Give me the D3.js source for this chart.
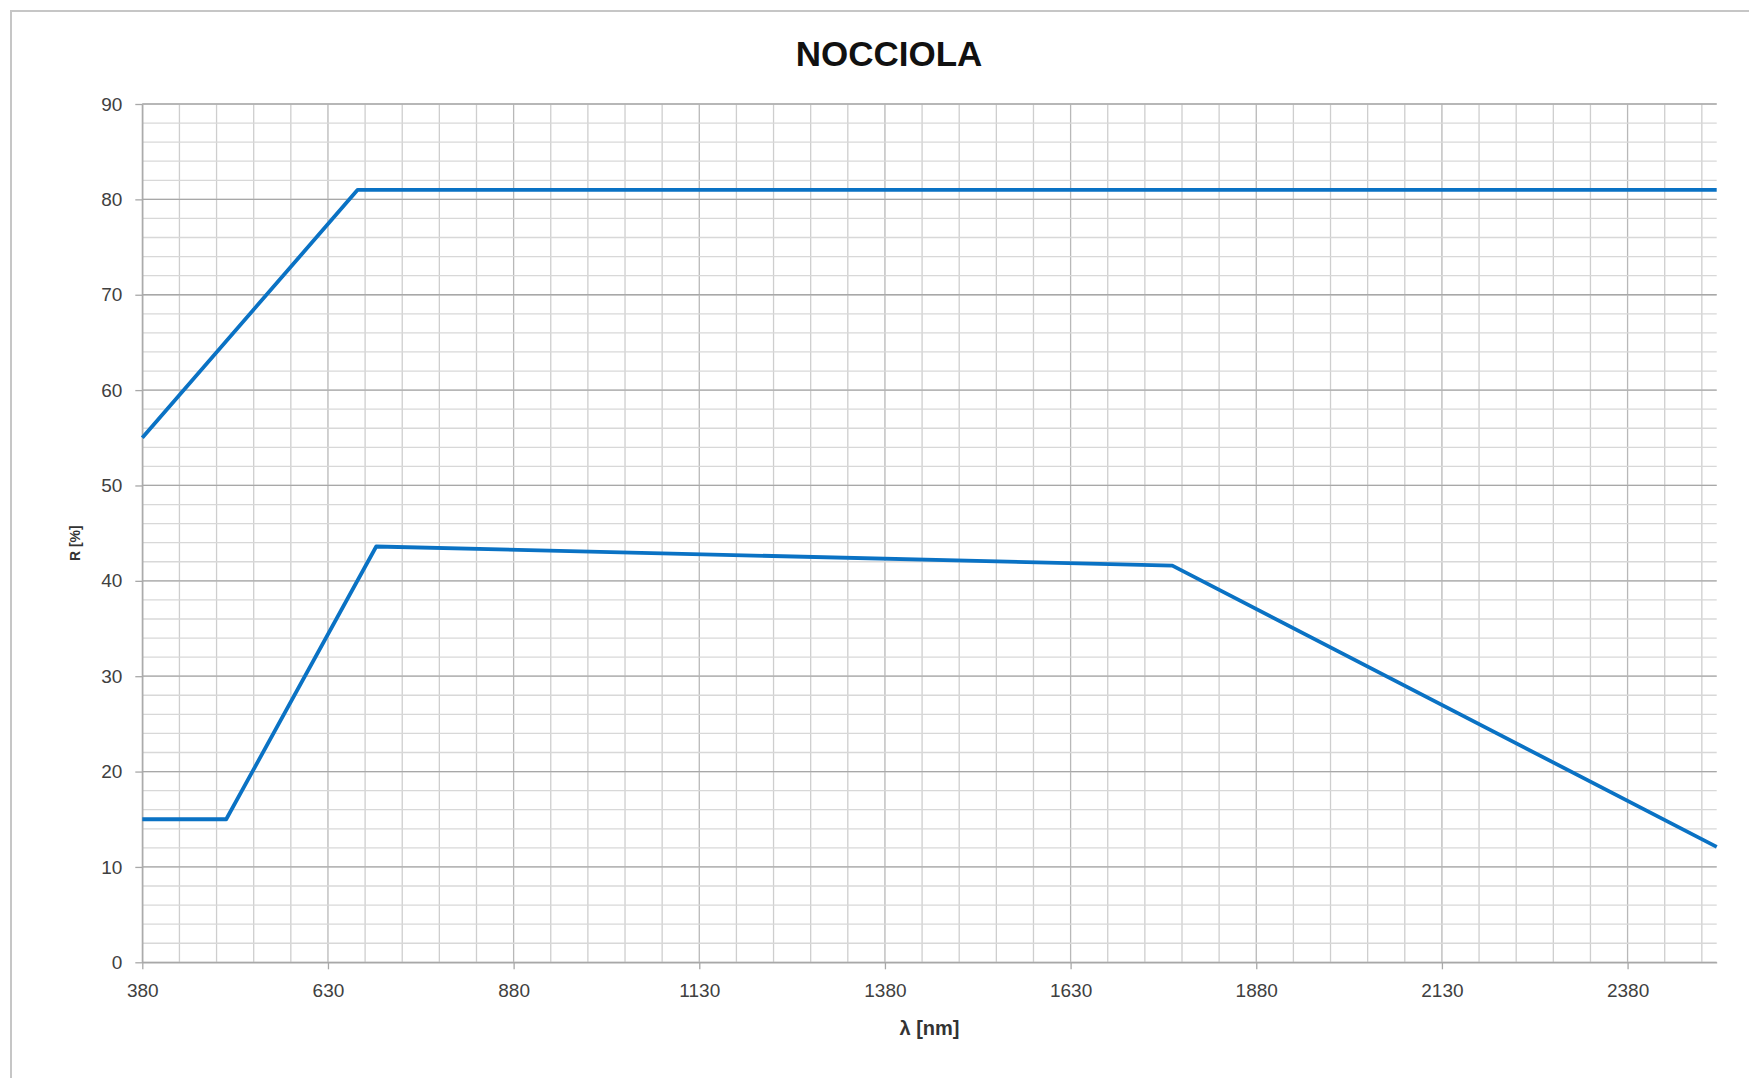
<!DOCTYPE html>
<html>
<head>
<meta charset="utf-8">
<script src="https://cdn.jsdelivr.net/npm/d3@7"></script>
<style>
	body { margin: 0; background: #fff; }
	svg { display: block; }
	text { font-family: 'Liberation Sans', Arial, sans-serif; }
</style>
</head>
<body>
<div id="chart"></div>
<script>
// wavelengths [nm] and reflectance [%]
const lambdaUpper = [380, 670, 2500];
const rUpper = [55, 81, 81];
const lambdaLower = [380, 493, 695, 1767, 2500];
const rLower = [15, 15, 43.6, 41.6, 12.1];

const xTicks = [380, 630, 880, 1130, 1380, 1630, 1880, 2130, 2380];
const yTicks = [0, 10, 20, 30, 40, 50, 60, 70, 80, 90];

const w = 1749;
const h = 1078;

const plotLeft = 142.3,
	plotRight = 1716.7,
	plotTop = 104,
	plotBottom = 962.3;

const svg = d3
	.select('#chart')
	.append('svg')
	.attr('width', w)
	.attr('height', h)
	.style('background-color', '#fff');

// chart frame (runs off the right and bottom edge)
svg
	.append('rect')
	.attr('x', 11)
	.attr('y', 11)
	.attr('width', w + 20)
	.attr('height', h + 20)
	.attr('fill', 'none')
	.attr('stroke', '#c6c6c6')
	.attr('stroke-width', 2);

const x = d3.scaleLinear().domain([380, 2500]).range([plotLeft, plotRight]);
const y = d3.scaleLinear().domain([0, 90]).range([plotBottom, plotTop]);

// vertical grid every 50 nm
const xMinor = d3.range(380, 2501, 50);
svg
	.append('g')
	.selectAll('line')
	.data(xMinor)
	.enter()
	.append('line')
	.attr('x1', d => x(d))
	.attr('x2', d => x(d))
	.attr('y1', plotTop)
	.attr('y2', plotBottom)
	.attr('stroke', d => ((d - 380) % 250 === 0 ? '#b8b8b8' : '#cecece'))
	.attr('stroke-width', 1.3);

// horizontal grid every 2 %
const yMinor = d3.range(0, 91, 2);
svg
	.append('g')
	.selectAll('line')
	.data(yMinor)
	.enter()
	.append('line')
	.attr('x1', plotLeft)
	.attr('x2', plotRight)
	.attr('y1', d => y(d))
	.attr('y2', d => y(d))
	.attr('stroke', '#d8d8d8')
	.attr('stroke-width', 1.3);

svg
	.append('g')
	.selectAll('line')
	.data(yTicks)
	.enter()
	.append('line')
	.attr('x1', plotLeft)
	.attr('x2', plotRight)
	.attr('y1', d => y(d))
	.attr('y2', d => y(d))
	.attr('stroke', '#a8a8a8')
	.attr('stroke-width', 1.3);

// axes
const xAxis = svg
	.append('g')
	.attr('transform', `translate(0,${plotBottom})`)
	.call(
		d3.axisBottom(x).tickValues(xTicks).tickFormat(d3.format('d'))
			.tickSize(7).tickPadding(14).tickSizeOuter(0)
	);

const yAxis = svg
	.append('g')
	.attr('transform', `translate(${plotLeft},0)`)
	.call(
		d3.axisLeft(y).tickValues(yTicks).tickFormat(d3.format('d'))
			.tickSize(7).tickPadding(13).tickSizeOuter(0)
	);

[xAxis, yAxis].forEach(a => {
	a.select('.domain').attr('stroke', '#a8a8a8').attr('stroke-width', 1.3);
	a.selectAll('.tick line').attr('stroke', '#a8a8a8').attr('stroke-width', 1.3);
	a.selectAll('.tick text')
		.attr('fill', '#404040')
		.style('font-size', '19px')
		.style('font-family', "'Liberation Sans', Arial, sans-serif");
});

// series
const line = d3
	.line()
	.x(d => x(d[0]))
	.y(d => y(d[1]));

const series = [d3.zip(lambdaUpper, rUpper), d3.zip(lambdaLower, rLower)];

svg
	.append('g')
	.selectAll('path')
	.data(series)
	.enter()
	.append('path')
	.attr('d', line)
	.attr('fill', 'none')
	.attr('stroke', '#0a72c4')
	.attr('stroke-width', 3.8)
	.attr('stroke-linejoin', 'round');

// titles
svg
	.append('text')
	.attr('x', 889)
	.attr('y', 66)
	.attr('text-anchor', 'middle')
	.style('font-size', '35px')
	.style('font-weight', 'bold')
	.attr('fill', '#111')
	.text('NOCCIOLA');

svg
	.append('text')
	.attr('x', (plotLeft + plotRight) / 2)
	.attr('y', 1035)
	.attr('text-anchor', 'middle')
	.style('font-size', '20px')
	.style('font-weight', 'bold')
	.attr('fill', '#333')
	.text('λ [nm]');

svg
	.append('text')
	.attr('transform', `translate(80,${(plotTop + plotBottom) / 2 + 10}) rotate(-90)`)
	.attr('text-anchor', 'middle')
	.style('font-size', '14px')
	.style('font-weight', 'bold')
	.attr('fill', '#333')
	.text('R [%]');
</script>
</body>
</html>
